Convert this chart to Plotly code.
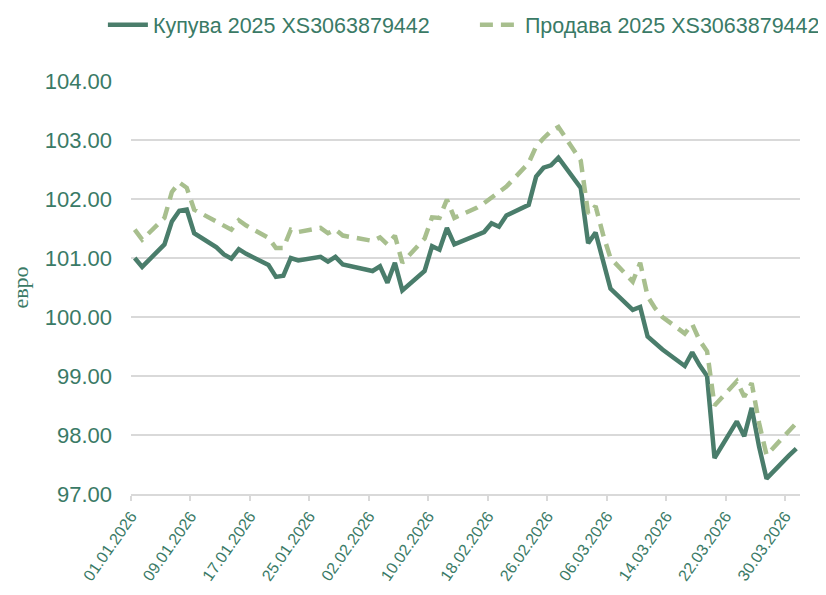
import plotly.graph_objects as go
import pandas as pd

# ---- data ----
dates = [
    "2026-01-01", "2026-01-02", "2026-01-05", "2026-01-06", "2026-01-07", "2026-01-08", "2026-01-09",
    "2026-01-12", "2026-01-13", "2026-01-14", "2026-01-15", "2026-01-16",
    "2026-01-19", "2026-01-20", "2026-01-21", "2026-01-22", "2026-01-23",
    "2026-01-26", "2026-01-27", "2026-01-28", "2026-01-29", "2026-01-30",
    "2026-02-02", "2026-02-03", "2026-02-04", "2026-02-05", "2026-02-06",
    "2026-02-09", "2026-02-10", "2026-02-11", "2026-02-12", "2026-02-13",
    "2026-02-16", "2026-02-17", "2026-02-18", "2026-02-19", "2026-02-20",
    "2026-02-23", "2026-02-24", "2026-02-25", "2026-02-26", "2026-02-27",
    "2026-03-02", "2026-03-03", "2026-03-04", "2026-03-05", "2026-03-06",
    "2026-03-09", "2026-03-10", "2026-03-11", "2026-03-12", "2026-03-13",
    "2026-03-16", "2026-03-17", "2026-03-18", "2026-03-19", "2026-03-20",
    "2026-03-23", "2026-03-24", "2026-03-25", "2026-03-26", "2026-03-27",
    "2026-03-30", "2026-03-31",
]

buy = [
    101.00, 100.85, 101.23, 101.62, 101.80, 101.82, 101.42,
    101.18, 101.06, 100.99, 101.15, 101.07,
    100.88, 100.68, 100.70, 101.00, 100.96,
    101.02, 100.94, 101.02, 100.89, 100.86,
    100.78, 100.86, 100.58, 100.92, 100.45,
    100.78, 101.20, 101.14, 101.51, 101.23,
    101.38, 101.44, 101.59, 101.53, 101.72,
    101.90, 102.38, 102.53, 102.57, 102.70,
    102.19, 101.25, 101.43, 100.92, 100.48,
    100.12, 100.17, 99.67, 99.56, 99.45,
    99.17, 99.40, 99.18, 99.00, 97.61,
    98.23, 97.98, 98.46, 97.80, 97.26,
    97.65, 97.77,
]

sell = [
    101.48, 101.31, 101.68, 102.12, 102.28, 102.19, 101.82,
    101.62, 101.55, 101.48, 101.64, 101.55,
    101.34, 101.17, 101.17, 101.48, 101.44,
    101.51, 101.42, 101.48, 101.38, 101.36,
    101.29, 101.35, 101.23, 101.38, 100.92,
    101.33, 101.69, 101.68, 101.99, 101.68,
    101.85, 101.93, 102.02, 102.10, 102.21,
    102.61, 102.89, 103.03, 103.15, 103.22,
    102.65, 101.75, 101.88, 101.40, 101.00,
    100.60, 100.92, 100.35, 100.15, 100.00,
    99.72, 99.88, 99.60, 99.42, 98.50,
    98.91, 98.65, 98.88, 98.20, 97.66,
    98.08, 98.20,
]

tick_dates = ["2026-01-01", "2026-01-09", "2026-01-17", "2026-01-25", "2026-02-02", "2026-02-10",
              "2026-02-18", "2026-02-26", "2026-03-06", "2026-03-14", "2026-03-22", "2026-03-30"]
tick_labels = ["01.01.2026", "09.01.2026", "17.01.2026", "25.01.2026", "02.02.2026", "10.02.2026",
               "18.02.2026", "26.02.2026", "06.03.2026", "14.03.2026", "22.03.2026", "30.03.2026"]

name_buy = "Купува 2025 XS3063879442"
name_sell = "Продава 2025 XS3063879442"

# ---- styling ----
C_BUY = "#4a7d6b"
C_SELL = "#a8bf8e"
C_TEXT = "#3a7a66"
C_GRID = "#d9d9d9"
FONT = "Liberation Sans, Arial, sans-serif"

# points sit in the middle of each day slot (Excel date axis)
x = pd.to_datetime(dates) + pd.Timedelta(hours=12)

fig = go.Figure()
fig.add_trace(go.Scatter(x=x, y=buy, mode="lines", name=name_buy,
                         line=dict(color=C_BUY, width=4.5)))
fig.add_trace(go.Scatter(x=x, y=sell, mode="lines", name=name_sell,
                         line=dict(color=C_SELL, width=4.5, dash="13px,8px")))

# page body has an 8px margin, so the figure is sized/offset to compensate
fig.update_layout(
    width=818, height=587,
    margin=dict(l=123, r=26, t=73, b=101, autoexpand=False),
    paper_bgcolor="white", plot_bgcolor="white",
    font=dict(family=FONT, color=C_TEXT, size=20),
    showlegend=True,
    legend=dict(orientation="h",
                x=-0.042, xanchor="left", y=1.136, yanchor="middle",
                font=dict(size=21.5, color=C_TEXT), itemwidth=40,
                entrywidth=317, entrywidthmode="pixels",
                bgcolor="rgba(0,0,0,0)", tracegroupgap=0),
    xaxis=dict(
        type="date",
        range=["2026-01-01", "2026-04-01"],
        tickmode="array",
        tickvals=tick_dates,
        ticktext=tick_labels,
        tickangle=-55,
        tickfont=dict(size=16, color=C_TEXT),
        showgrid=False,
        showline=True, linecolor=C_GRID, linewidth=1.5,
        ticks="outside", ticklen=5, tickcolor=C_GRID, tickwidth=1.5,
        zeroline=False,
    ),
    yaxis=dict(
        range=[97, 104],
        dtick=1,
        tick0=97,
        tickformat=".2f",
        tickfont=dict(size=22, color=C_TEXT),
        showgrid=True, gridcolor=C_GRID, gridwidth=1.5,
        showline=False, zeroline=False,
        ticklabelstandoff=18,
        title=dict(text="евро", font=dict(family="Liberation Serif, serif", size=22, color=C_TEXT),
                   standoff=14),
    ),
)

fig.write_html("out.html")
